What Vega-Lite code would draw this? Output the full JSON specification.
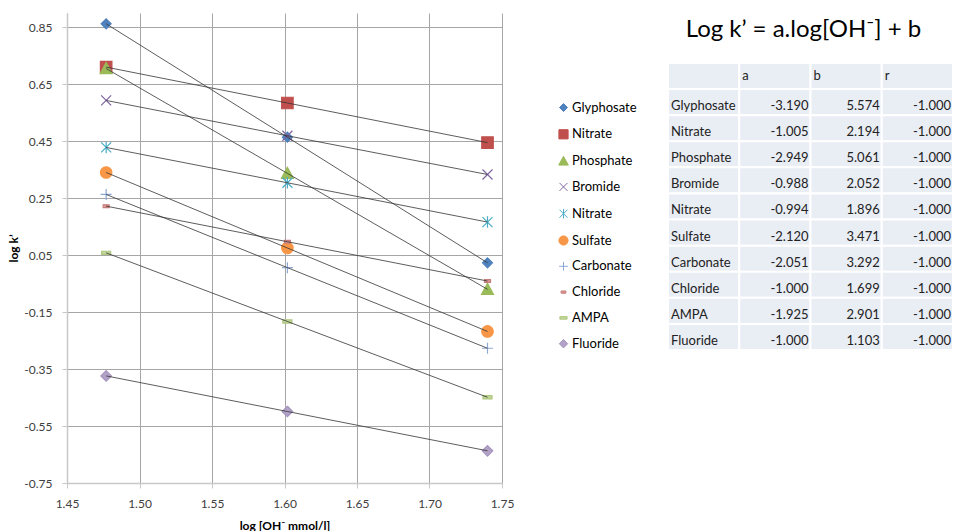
{
  "$schema": "https://vega.github.io/schema/vega-lite/v6.json",
  "padding": {"left": 7, "top": 13, "right": 0, "bottom": 0},
  "config": {
    "locale": {"number": {"decimal": ".", "thousands": ",", "grouping": [3], "currency": ["$", ""], "minus": "-"}},
    "font": "Lato",
    "view": {"stroke": null},
    "legend": {"padding": 0, "labelFont": "Lato", "labelFontSize": 13, "labelColor": "#000000", "symbolSize": 64, "symbolStrokeWidth": 1, "rowPadding": 11.8, "labelOffset": 2}
  },
  "datasets": {
    "pts": [
      {"ion": "Glyphosate", "x": 1.477, "y": 0.862},
      {"ion": "Glyphosate", "x": 1.602, "y": 0.464},
      {"ion": "Glyphosate", "x": 1.740, "y": 0.023},
      {"ion": "Nitrate", "x": 1.477, "y": 0.710},
      {"ion": "Nitrate", "x": 1.602, "y": 0.584},
      {"ion": "Nitrate", "x": 1.740, "y": 0.445},
      {"ion": "Phosphate", "x": 1.477, "y": 0.705},
      {"ion": "Phosphate", "x": 1.602, "y": 0.337},
      {"ion": "Phosphate", "x": 1.740, "y": -0.070},
      {"ion": "Bromide", "x": 1.477, "y": 0.593},
      {"ion": "Bromide", "x": 1.602, "y": 0.469},
      {"ion": "Bromide", "x": 1.740, "y": 0.333},
      {"ion": "Nitrate#2", "x": 1.477, "y": 0.428},
      {"ion": "Nitrate#2", "x": 1.602, "y": 0.304},
      {"ion": "Nitrate#2", "x": 1.740, "y": 0.166},
      {"ion": "Sulfate", "x": 1.477, "y": 0.340},
      {"ion": "Sulfate", "x": 1.602, "y": 0.075},
      {"ion": "Sulfate", "x": 1.740, "y": -0.218},
      {"ion": "Carbonate", "x": 1.477, "y": 0.263},
      {"ion": "Carbonate", "x": 1.602, "y": 0.006},
      {"ion": "Carbonate", "x": 1.740, "y": -0.277},
      {"ion": "Chloride", "x": 1.477, "y": 0.222},
      {"ion": "Chloride", "x": 1.602, "y": 0.097},
      {"ion": "Chloride", "x": 1.740, "y": -0.041},
      {"ion": "AMPA", "x": 1.477, "y": 0.058},
      {"ion": "AMPA", "x": 1.602, "y": -0.183},
      {"ion": "AMPA", "x": 1.740, "y": -0.449},
      {"ion": "Fluoride", "x": 1.477, "y": -0.374},
      {"ion": "Fluoride", "x": 1.602, "y": -0.499},
      {"ion": "Fluoride", "x": 1.740, "y": -0.637}
    ],
    "tbl": [
      {"i": 1, "name": "Glyphosate", "a": -3.190, "b": 5.574, "r": -1.000},
      {"i": 2, "name": "Nitrate", "a": -1.005, "b": 2.194, "r": -1.000},
      {"i": 3, "name": "Phosphate", "a": -2.949, "b": 5.061, "r": -1.000},
      {"i": 4, "name": "Bromide", "a": -0.988, "b": 2.052, "r": -1.000},
      {"i": 5, "name": "Nitrate", "a": -0.994, "b": 1.896, "r": -1.000},
      {"i": 6, "name": "Sulfate", "a": -2.120, "b": 3.471, "r": -1.000},
      {"i": 7, "name": "Carbonate", "a": -2.051, "b": 3.292, "r": -1.000},
      {"i": 8, "name": "Chloride", "a": -1.000, "b": 1.699, "r": -1.000},
      {"i": 9, "name": "AMPA", "a": -1.925, "b": 2.901, "r": -1.000},
      {"i": 10, "name": "Fluoride", "a": -1.000, "b": 1.103, "r": -1.000}
    ],
    "hdr": [
      {"col": "name", "label": ""},
      {"col": "a", "label": "a"},
      {"col": "b", "label": "b"},
      {"col": "r", "label": "r"}
    ]
  },
  "spacing": 30,
  "resolve": {
    "scale": {"x": "independent", "y": "independent", "fill": "independent", "stroke": "independent", "shape": "independent"},
    "legend": {"fill": "independent", "stroke": "independent", "shape": "independent"}
  },
  "hconcat": [
    {
      "width": 435,
      "height": 470,
      "data": {"name": "pts"},
      "layer": [
        {
          "mark": {"type": "point", "filled": true, "size": 100, "strokeWidth": 1.2, "opacity": 1},
          "encoding": {
            "x": {
              "field": "x", "type": "quantitative",
              "scale": {"domain": [1.45, 1.75], "nice": false, "zero": false},
              "axis": {
                "values": [1.45, 1.5, 1.55, 1.6, 1.65, 1.7, 1.75], "format": ".2f",
                "title": "log [OH⁻ mmol/l]",
                "grid": true, "gridColor": "#A6A6A6", "gridWidth": 1,
                "domainColor": "#C8C8C8", "domainWidth": 1.5,
                "tickColor": "#C8C8C8", "tickSize": 5,
                "labelFont": "Lato", "labelFontSize": 12, "labelColor": "#404040", "labelPadding": 10, "labelFlush": false,
                "titleFont": "Lato", "titleFontSize": 12, "titleFontWeight": "bold", "titleColor": "#000000", "titlePadding": 11
              }
            },
            "y": {
              "field": "y", "type": "quantitative",
              "scale": {"domain": [-0.75, 0.9], "nice": false, "zero": false},
              "axis": {
                "values": [-0.75, -0.55, -0.35, -0.15, 0.05, 0.25, 0.45, 0.65, 0.85], "format": ".2f",
                "title": "log k’",
                "grid": true, "gridColor": "#A6A6A6", "gridWidth": 1,
                "domainColor": "#C8C8C8", "domainWidth": 1.5,
                "tickColor": "#C8C8C8", "tickSize": 5,
                "labelFont": "Lato", "labelFontSize": 12, "labelColor": "#404040", "labelPadding": 10,
                "titleFont": "Lato", "titleFontSize": 12, "titleFontWeight": "bold", "titleColor": "#000000", "titlePadding": 3
              }
            },
            "fill": {
              "field": "ion", "type": "nominal",
              "scale": {
                "domain": ["Glyphosate", "Nitrate", "Phosphate", "Bromide", "Nitrate#2", "Sulfate", "Carbonate", "Chloride", "AMPA", "Fluoride"],
                "range": ["#4F81BD", "#C0504D", "#9BBB59", "#8064A2", "#4BACC6", "#F79646", "#8EA9D4", "#D99694", "#C3D69B", "#B3A2C7"]
              },
              "legend": {"orient": "none", "legendX": 490, "legendY": 88, "title": null, "labelExpr": "split(datum.label, '#')[0]"}
            },
            "stroke": {
              "field": "ion", "type": "nominal",
              "scale": {
                "domain": ["Glyphosate", "Nitrate", "Phosphate", "Bromide", "Nitrate#2", "Sulfate", "Carbonate", "Chloride", "AMPA", "Fluoride"],
                "range": ["#4F81BD", "#C0504D", "#9BBB59", "#8064A2", "#4BACC6", "#F79646", "#8EA9D4", "#C77D7B", "#AFC77F", "#A493BD"]
              },
              "legend": {"orient": "none", "legendX": 490, "legendY": 88, "title": null, "labelExpr": "split(datum.label, '#')[0]"}
            },
            "shape": {
              "field": "ion", "type": "nominal",
              "scale": {
                "domain": ["Glyphosate", "Nitrate", "Phosphate", "Bromide", "Nitrate#2", "Sulfate", "Carbonate", "Chloride", "AMPA", "Fluoride"],
                "range": [
                  "M0,-1L1,0L0,1L-1,0Z",
                  "M-1.15,-1.15L1.15,-1.15L1.15,1.15L-1.15,1.15Z",
                  "M0,-1.2L1.2,1L-1.2,1Z",
                  "M-1,-1L1,1M-1,1L1,-1",
                  "M-1,-1L1,1M-1,1L1,-1M0,-1.15L0,1.15",
                  "M1.15,0A1.15,1.15,0,1,1,-1.15,0A1.15,1.15,0,1,1,1.15,0Z",
                  "M-1.1,0L1.1,0M0,-1.1L0,1.1",
                  "M-0.6,-0.28L0.6,-0.28L0.6,0.28L-0.6,0.28Z",
                  "M-0.9,-0.32L0.9,-0.32L0.9,0.32L-0.9,0.32Z",
                  "M0,-1.05L1.05,0L0,1.05L-1.05,0Z"
                ]
              },
              "legend": {"orient": "none", "legendX": 490, "legendY": 88, "title": null, "labelExpr": "split(datum.label, '#')[0]"}
            }
          }
        },
        {
          "mark": {"type": "line", "color": "#333333", "strokeWidth": 0.8},
          "encoding": {
            "x": {"field": "x", "type": "quantitative"},
            "y": {"field": "y", "type": "quantitative"},
            "detail": {"field": "ion"}
          }
        }
      ]
    },
    {
      "width": 285,
      "height": 337,
      "title": {"text": "Log k’ = a.log[OH⁻] + b", "font": "Lato", "fontSize": 24, "fontWeight": "normal", "color": "#000000", "offset": -29, "anchor": "middle", "dx": -7},
      "layer": [
        {
          "data": {"name": "tbl"},
          "encoding": {
            "y": {
              "field": "i", "type": "ordinal",
              "scale": {"type": "band", "domain": [0, 1, 2, 3, 4, 5, 6, 7, 8, 9, 10], "paddingInner": 0, "paddingOuter": 0.958, "align": 1},
              "axis": null
            }
          },
          "layer": [
            {
              "mark": {"type": "rect", "fill": "#E9EDF4", "stroke": "#FFFFFF", "strokeWidth": 2},
              "encoding": {
                "x": {
                  "datum": "name", "type": "nominal",
                  "scale": {"type": "band", "domain": ["name", "a", "b", "r"], "paddingInner": 0, "paddingOuter": 0},
                  "axis": null
                }
              }
            },
            {
              "mark": {"type": "text", "align": "left", "dx": 3, "dy": 4, "fontSize": 13, "font": "Lato", "color": "#222222"},
              "encoding": {
                "x": {"datum": "name", "type": "nominal", "bandPosition": 0},
                "text": {"field": "name"}
              }
            }
          ]
        },
        {
          "data": {"name": "tbl"},
          "transform": [{"fold": ["a", "b", "r"], "as": ["col", "val"]}],
          "encoding": {
            "y": {"field": "i", "type": "ordinal"}
          },
          "layer": [
            {
              "mark": {"type": "rect", "fill": "#E9EDF4", "stroke": "#FFFFFF", "strokeWidth": 2},
              "encoding": {"x": {"field": "col", "type": "nominal"}}
            },
            {
              "mark": {"type": "text", "align": "right", "dx": -2, "dy": 4, "fontSize": 13, "font": "Lato", "color": "#222222"},
              "encoding": {
                "x": {"field": "col", "type": "nominal", "bandPosition": 1},
                "text": {"field": "val", "type": "quantitative", "format": ".3f"}
              }
            }
          ]
        },
        {
          "data": {"name": "hdr"},
          "encoding": {
            "y": {"datum": 0, "type": "ordinal"}
          },
          "layer": [
            {
              "mark": {"type": "rect", "fill": "#E9EDF4", "stroke": "#FFFFFF", "strokeWidth": 2},
              "encoding": {"x": {"field": "col", "type": "nominal"}}
            },
            {
              "mark": {"type": "text", "align": "left", "dx": 3, "fontSize": 13, "font": "Lato", "color": "#222222"},
              "encoding": {
                "x": {"field": "col", "type": "nominal", "bandPosition": 0},
                "text": {"field": "label"}
              }
            }
          ]
        }
      ]
    }
  ]
}
